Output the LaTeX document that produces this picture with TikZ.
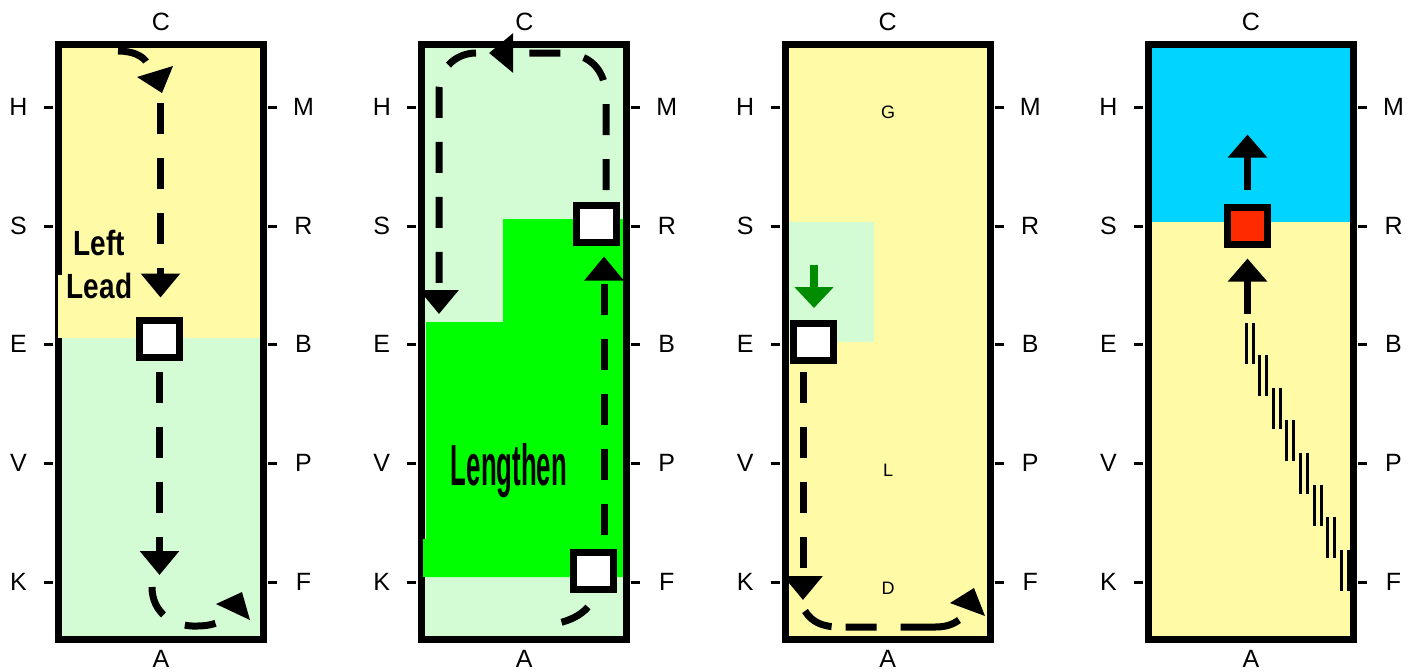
\documentclass[tikz,border=0pt]{standalone}
\usepackage{fontspec}
\setmainfont{Liberation Sans}
\usepackage{graphicx}
\usetikzlibrary{arrows.meta}
\definecolor{pale}{HTML}{FFFAA6}
\definecolor{mint}{HTML}{D4FCD4}
\definecolor{lime}{HTML}{00FF00}
\definecolor{sky}{HTML}{00D4FF}
\definecolor{rust}{HTML}{FF2A00}
\definecolor{leaf}{HTML}{008C00}
\newcommand{\arenaframe}[1]% left edge
{(#1+3.5,44.5) rectangle (#1+208.5,639.5)
}
\newcommand{\arenapart}[3]% left edge, top, bottom
{(#1+3.5,#2) rectangle (#1+208.5,#3)
}
\tikzset{
	frame/.style={line width=3.5pt},
	tick/.style={line width=1.5pt},
	side/.style={font=\fontsize{12.5}{15}\selectfont},
	zone/.style={font=\fontsize{9}{11}\selectfont},
	lead/.style={font=\bfseries\fontsize{17.5}{20}\selectfont, anchor=base, inner sep=0pt},
	cell/.style={draw, line width=3.5pt, fill=white, minimum width=20pt, minimum height=18.5pt, inner sep=0pt},
	trail/.style={line width=3.5pt, dash pattern=on 15.5pt off 12pt},
	shaft/.style={line width=3.5pt},
	bighead/.style={-{Triangle[width=19pt,length=12pt]}},
	rung/.style={line width=1.5pt}
}

\begin{document}
\begin{tikzpicture}[x=0.5pt,y=-0.5pt]
	\useasboundingbox (0,0) rectangle (1416,671);
	% floors
	\fill[pale] \arenapart{55}{44.5}{338};%1
	\fill[mint] \arenapart{55}{338}{639.5};
	\fill[mint] \arenapart{418.3}{44.5}{639.5};%2
	\fill[lime] (426,322) -- (503,322) -- (503,219) -- (623.3,219) -- (623.3,577) -- (426,577) -- cycle;
	\fill[pale] \arenapart{781.7}{44.5}{639.5};%3
	\fill[mint] (788,222) rectangle (874,342);
	\fill[sky] \arenapart{1145}{44.5}{222};%4
	\fill[pale] \arenapart{1145}{222}{639.5};
	% walls, ticks, letters
	\foreach \x [count=\n] in {55,418.3,781.7,1145}{
		\draw[frame] \arenaframe{\x};
		\foreach \y/\l/\r in {107/H/M,226/S/R,344/E/B,463/V/P,582/K/F}{
			\draw[tick] (\x-11,\y) -- (\x-2,\y);
			\draw[tick] (\x+213,\y) -- (\x+222,\y);
			\node[side] (\l\n) at (\x-36.5,\y) {\l};
			\node[side] (\r\n) at (\x+248.5,\y) {\r};
		}
		\node[side] (C\n) at (\x+106,22) {C};
		\node[side] (A\n) at (\x+106,659) {A};
	}
	\fill[pale] (58,275) rectangle (62,338);
	\fill[lime] (423,539) rectangle (426,577);
	% arena 1
	\node[lead] (left1) at (99,255) {\scalebox{0.8}[1]{Left}};
	\node[lead] (lead1) at (99.5,298) {\scalebox{0.8}[1]{Lead}};
	\node[cell] (home1) at (159.5,339) {};
	\coordinate (arc1) at (118,51);
	\coordinate (go1) at (160.5,103);
	\draw[trail] (arc1) .. controls (133,51) and (143,56) .. (147,63);
	\fill (137,77) -- (173,66) -- (162,93) -- cycle;
	\draw[trail,bighead,shorten >=9.75pt] (go1) -- (go1 |- home1.north);
	\draw[trail,bighead,shorten <=5.25pt] (home1.south) -- ++(0,214);
	\draw[trail] (152,587) .. controls (152,612) and (172,627) .. (197,626) .. controls (210,626) and (218,623) .. (224,619);
	\fill (216,604) -- (242,592) -- (250,620) -- cycle;
	% arena 2
	\node[lead, font=\bfseries\fontsize{29}{34}\selectfont] (grow2) at (509,485) {\scalebox{0.445}[1]{Lengthen}};
	\node[cell] (top2) at (596.5,223.5) {};
	\node[cell] (low2) at (593.5,571) {};
	\coordinate (rise2) at (604,535);
	\coordinate (back2) at (606,190);
	\coordinate (turn2) at (476,53);
	\draw[trail,bighead,shorten >=5.5pt] (rise2) -- (rise2 |- top2.south);
	\draw[trail,bighead] (back2) -- (606,98) .. controls (606,70) and (590,53) .. (561,53) -- (489,53);
	\draw[trail,bighead] (turn2) .. controls (458,53) and (439,66) .. (439,92) -- (439,314);
	\draw[trail] (588,607) .. controls (580,616) and (570,620) .. (559,623);
	% arena 3
	\node[zone] (G3) at (888,112.5) {G};
	\node[zone] (L3) at (888,470) {L};
	\node[zone] (D3) at (888,588.5) {D};
	\draw[leaf, line width=4pt, -{Triangle[width=19pt,length=10.5pt]}] (814,265) -- (814,308);
	\node[cell] (pos3) at (813,341.5) {};
	\coordinate (drop3) at (803,372);
	\draw[trail,bighead] (drop3) -- ++(0,228);
	\draw[trail, dash pattern=on 16pt off 7pt on 15.5pt off 12pt on 31pt off 12pt] (805,611) .. controls (812,622) and (822,627) .. (840,627) -- (935,627) .. controls (945,627) and (952,625) .. (959,620);
	\fill (950,603) -- (974,588) -- (985,616) -- cycle;
	% arena 4
	\node[cell, fill=rust] (pos4) at (1247.5,225.5) {};
	\coordinate (base4) at (1247.5,314);
	\draw[shaft,-{Triangle[width=19pt,length=11.5pt]},shorten <=7pt] (pos4.north) -- ++(0,-69);
	\draw[shaft,-{Triangle[width=19pt,length=11.5pt]},shorten >=5.5pt] (base4) -- (pos4.south);
	\foreach \i in {0,...,7}{
		\draw[rung] (1246+13.6*\i,323+32.4*\i) -- ++(0,41);
		\draw[rung] (1253+13.6*\i,323+32.4*\i) -- ++(0,41);
	}
\end{tikzpicture}
\end{document}
